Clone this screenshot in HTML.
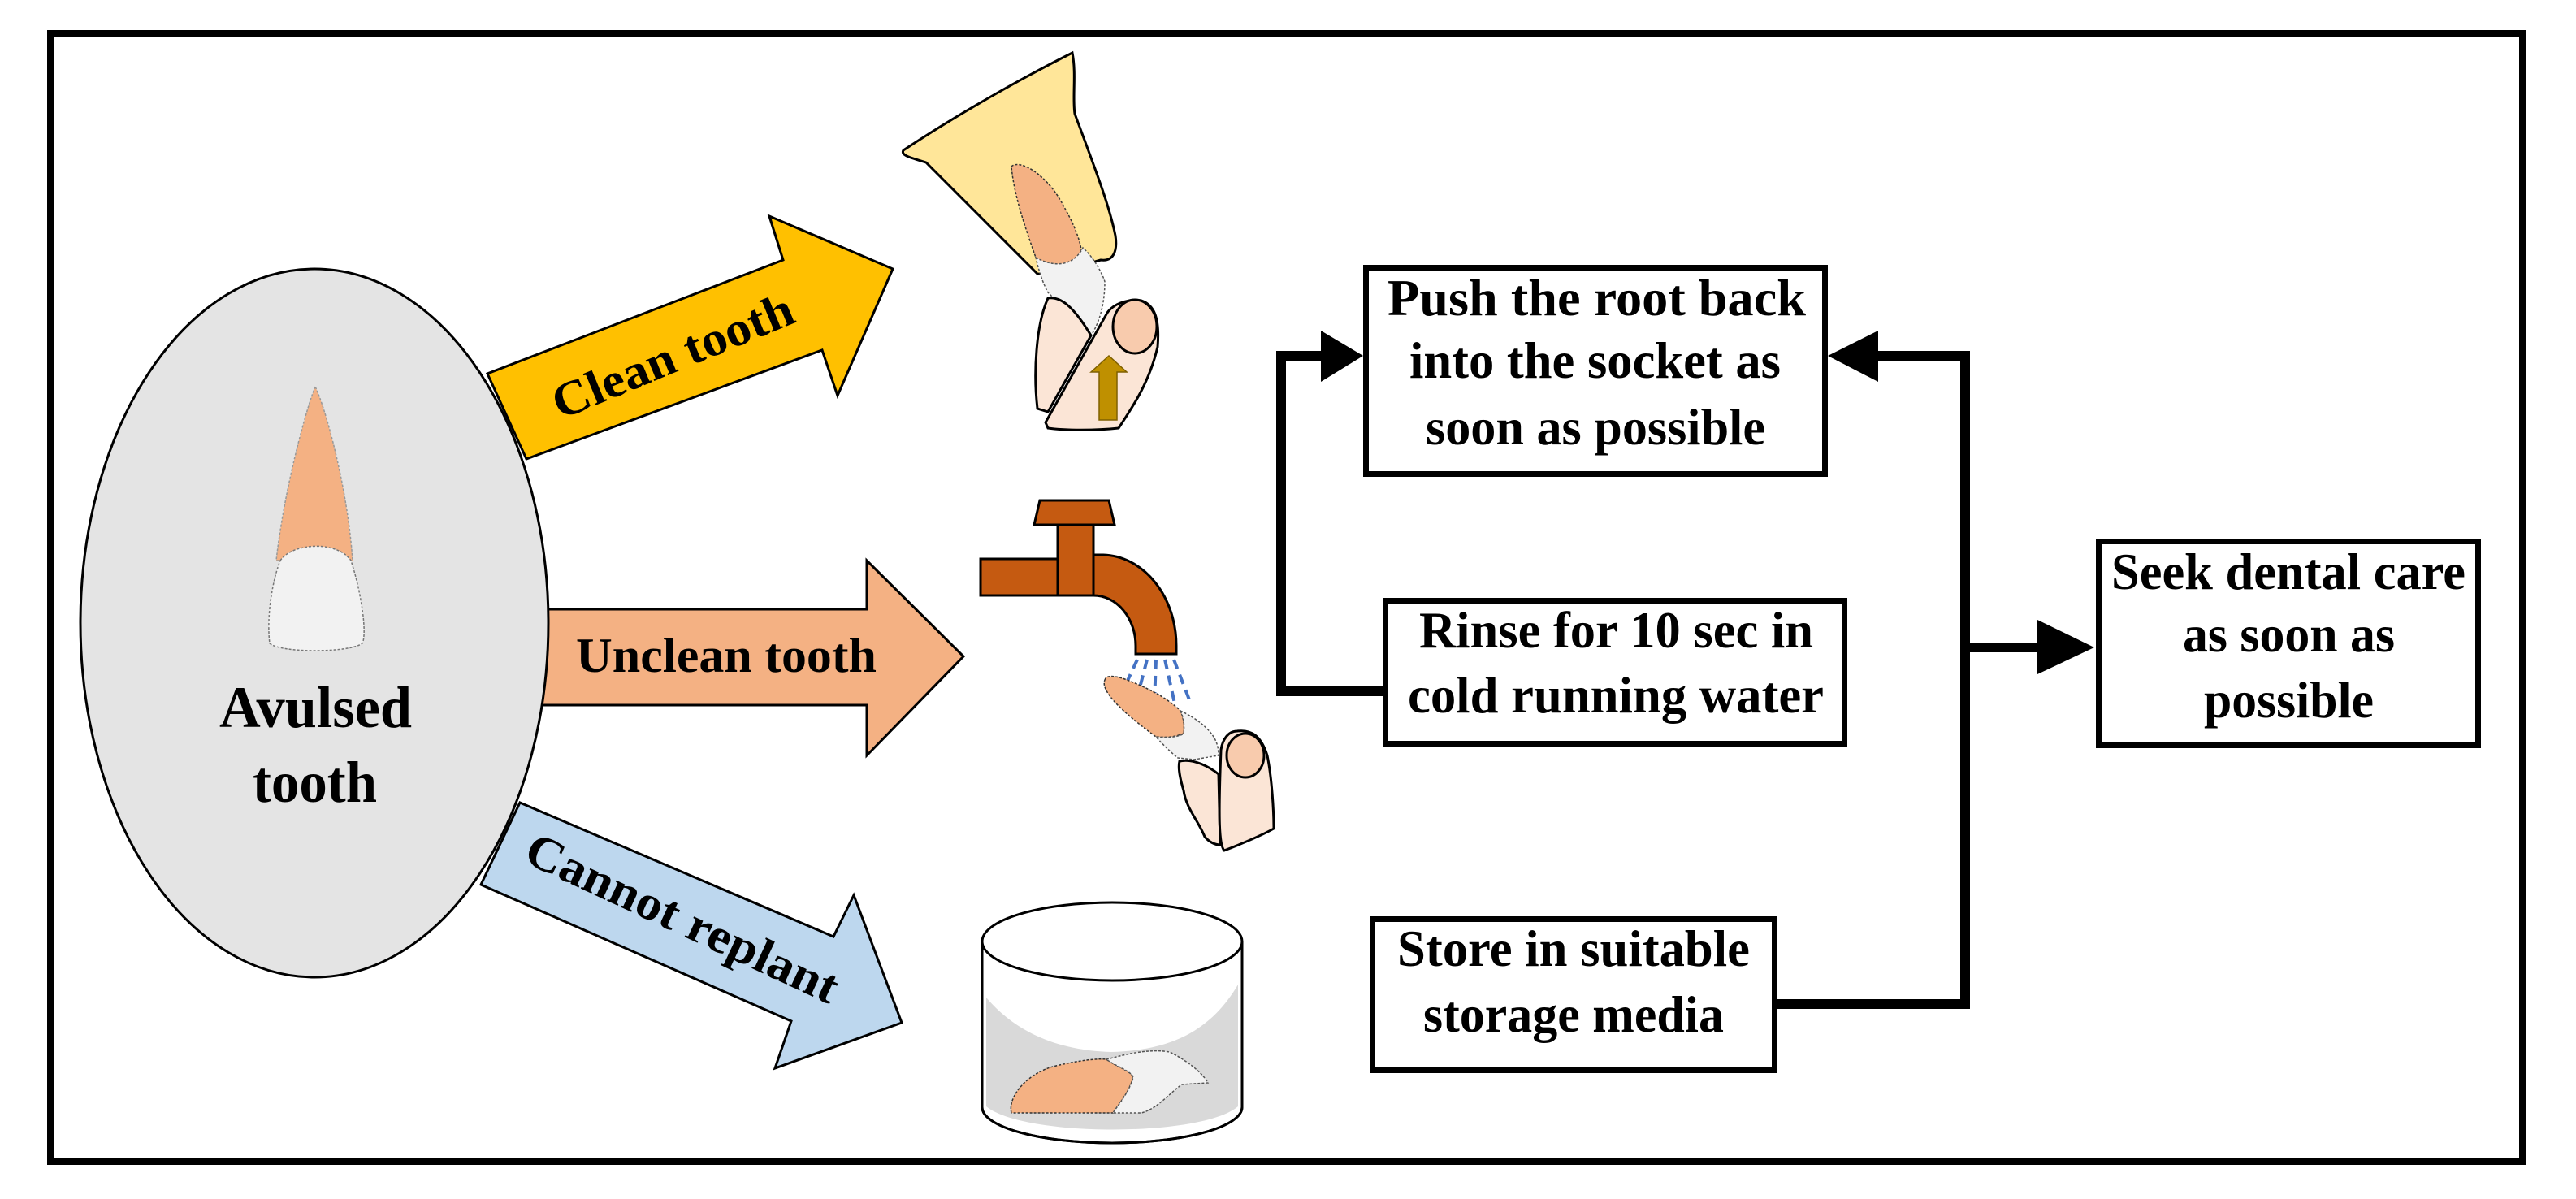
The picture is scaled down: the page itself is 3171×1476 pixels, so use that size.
<!DOCTYPE html>
<html><head><meta charset="utf-8"><style>
html,body{margin:0;padding:0;background:#fff;}
svg{display:block;}
text{font-family:"Liberation Serif","Times New Roman",serif;font-weight:bold;fill:#000;}
</style></head><body>
<svg width="3171" height="1476" viewBox="0 0 3171 1476" xmlns="http://www.w3.org/2000/svg">
<rect x="0" y="0" width="3171" height="1476" fill="#fff"/>
<rect x="62" y="41" width="3043" height="1389" fill="none" stroke="#000" stroke-width="8"/>

<!-- arrows (behind ellipse) -->
<polygon points="648,565 600,460 964,320 947,266 1099,331 1031,487 1012,431" fill="#FFC000" stroke="#000" stroke-width="3"/>
<polygon points="660,750 1067,750 1067,690 1186,808 1067,930 1067,868 660,868" fill="#F4B183" stroke="#000" stroke-width="3"/>
<polygon points="640,988 592,1089 974,1257 954,1315 1110,1259 1051,1102 1026,1153" fill="#BDD7EE" stroke="#000" stroke-width="3"/>

<ellipse cx="387" cy="767" rx="288" ry="436" fill="#E4E4E4" stroke="#000" stroke-width="3"/>

<!-- tooth in ellipse -->
<path d="M388,476 C378,500 350,600 340,690 L434,690 C428,600 400,500 388,476 Z" fill="#F4B183" stroke="#999" stroke-width="1.5" stroke-dasharray="3,2"/>
<path d="M345,690 C360,668 415,665 432,690 C445,730 452,780 446,792 C430,804 345,804 332,792 C328,760 335,715 345,690 Z" fill="#F2F2F2" stroke="#777" stroke-width="1.5" stroke-dasharray="3,2"/>

<text x="270" y="895" font-size="72" textLength="237" lengthAdjust="spacingAndGlyphs">Avulsed</text>
<text x="311" y="987" font-size="72" textLength="153" lengthAdjust="spacingAndGlyphs">tooth</text>

<text x="828" y="458" font-size="60" text-anchor="middle" textLength="316" lengthAdjust="spacingAndGlyphs" transform="rotate(-22.5 828 438)">Clean tooth</text>
<text x="709" y="827" font-size="60" textLength="370" lengthAdjust="spacingAndGlyphs">Unclean tooth</text>
<text x="840" y="1150" font-size="60" text-anchor="middle" textLength="418" lengthAdjust="spacingAndGlyphs" transform="rotate(25 840 1130)">Cannot replant</text>

<!-- picture 1: gum + fingers -->
<path d="M1112,185 C1180,140 1260,95 1320,65 C1325,90 1320,120 1323,140 C1345,200 1365,250 1373,290 C1376,310 1370,322 1355,320 C1320,330 1300,338 1277,337 C1230,290 1180,240 1140,200 C1125,195 1108,192 1112,185 Z" fill="#FFE699" stroke="#000" stroke-width="3"/>
<path d="M1245,205 C1255,195 1290,215 1310,255 C1330,290 1335,315 1330,327 C1310,335 1285,325 1275,317 C1262,280 1248,240 1245,205 Z" fill="#F4B183" stroke="#333" stroke-width="1.5" stroke-dasharray="3,2"/>
<path d="M1275,317 C1295,328 1320,330 1333,305 C1350,320 1360,345 1360,347 C1360,370 1355,395 1343,413 C1320,390 1300,370 1290,360 C1282,345 1278,330 1275,317 Z" fill="#F2F2F2" stroke="#555" stroke-width="1.5" stroke-dasharray="3,2"/>
<path d="M1277,503 C1272,460 1275,400 1290,367 C1305,365 1320,375 1343,413 L1290,507 Z" fill="#FBE5D6" stroke="#000" stroke-width="3"/>
<path d="M1287,520 L1363,385 C1370,375 1385,368 1405,370 C1420,375 1428,390 1425,427 C1415,470 1395,500 1377,527 C1350,530 1310,530 1290,527 Z" fill="#FBE5D6" stroke="#000" stroke-width="3"/>
<ellipse cx="1397" cy="402" rx="27" ry="33" fill="#F8CBAD" stroke="#000" stroke-width="3"/>
<polygon points="1353,517 1353,458 1343,458 1365,438 1387,458 1375,458 1375,517" fill="#BF9000" stroke="#7F6000" stroke-width="1.5"/>

<!-- faucet -->
<polygon points="1280,616 1365,616 1372,646 1273,646" fill="#C55A11" stroke="#000" stroke-width="3"/>
<rect x="1207" y="688" width="95" height="45" fill="#C55A11" stroke="#000" stroke-width="3"/>
<rect x="1302" y="646" width="44" height="87" fill="#C55A11" stroke="#000" stroke-width="3"/>
<path d="M1346,683 L1358,683 A92,112 0 0 1 1448,795 L1448,805 L1398,805 L1398,795 A52,62 0 0 0 1346,733 Z" fill="#C55A11" stroke="#000" stroke-width="3"/>
<g stroke="#4472C4" stroke-width="4" stroke-dasharray="12,8">
<line x1="1400" y1="812" x2="1375" y2="866"/>
<line x1="1412" y1="812" x2="1398" y2="866"/>
<line x1="1423" y1="812" x2="1421" y2="866"/>
<line x1="1434" y1="812" x2="1446" y2="866"/>
<line x1="1445" y1="812" x2="1465" y2="864"/>
</g>
<!-- wet tooth + finger -->
<path d="M1360,837 C1362,830 1375,832 1390,838 C1420,850 1440,862 1453,875 C1458,885 1458,898 1457,903 C1445,908 1432,908 1423,907 C1400,890 1375,870 1365,855 C1360,848 1358,842 1360,837 Z" fill="#F4B183" stroke="#333" stroke-width="1.5" stroke-dasharray="3,2"/>
<path d="M1453,875 C1475,885 1492,900 1497,913 C1500,920 1500,928 1500,930 L1470,935 C1460,934 1450,933 1450,933 C1440,925 1430,915 1423,907 C1435,908 1450,908 1457,903 C1458,895 1458,885 1453,875 Z" fill="#F2F2F2" stroke="#555" stroke-width="1.5" stroke-dasharray="3,2"/>
<path d="M1452,937 C1470,933 1490,945 1500,953 L1502,1040 C1495,1040 1488,1036 1483,1030 C1475,1010 1460,995 1457,973 C1453,960 1450,945 1452,937 Z" fill="#FBE5D6" stroke="#000" stroke-width="3"/>
<path d="M1503,923 C1505,910 1512,900 1523,900 C1540,898 1552,905 1560,930 C1566,960 1568,1000 1568,1020 C1550,1030 1525,1040 1507,1047 C1500,1040 1500,1000 1503,923 Z" fill="#FBE5D6" stroke="#000" stroke-width="3"/>
<ellipse cx="1533" cy="930" rx="23" ry="27" fill="#F8CBAD" stroke="#000" stroke-width="3"/>

<!-- glass -->
<path d="M1209,1159 L1209,1363 A160,44 0 0 0 1529,1363 L1529,1159" fill="#fff" stroke="#000" stroke-width="3"/>
<path d="M1214,1228 C1250,1270 1300,1293 1368,1295 C1440,1293 1490,1270 1524,1212 L1524,1362 C1480,1400 1260,1400 1214,1362 Z" fill="#D9D9D9"/>
<path d="M1209,1363 A160,44 0 0 0 1529,1363" fill="none" stroke="#000" stroke-width="3"/>
<ellipse cx="1369" cy="1159" rx="160" ry="48" fill="#fff" stroke="#000" stroke-width="3"/>
<path d="M1245,1370 C1240,1350 1265,1320 1300,1312 C1330,1305 1350,1303 1362,1304 C1372,1312 1392,1318 1395,1326 C1390,1345 1375,1362 1370,1370 Z" fill="#F4B183" stroke="#333" stroke-width="1.5" stroke-dasharray="3,2"/>
<path d="M1362,1304 C1380,1300 1410,1290 1440,1295 C1460,1305 1480,1320 1487,1333 L1455,1335 C1440,1345 1425,1365 1405,1370 L1370,1370 C1375,1362 1390,1345 1395,1326 C1392,1318 1372,1312 1362,1304 Z" fill="#F2F2F2" stroke="#555" stroke-width="1.5" stroke-dasharray="3,2"/>

<!-- boxes -->
<g fill="#fff" stroke="#000" stroke-width="7">
<rect x="1681.5" y="329.5" width="565" height="254"/>
<rect x="1705.5" y="739.5" width="565" height="176"/>
<rect x="1689.5" y="1131.5" width="495" height="186"/>
<rect x="2583.5" y="666.5" width="467" height="251"/>
</g>

<!-- connectors -->
<g fill="none" stroke="#000" stroke-width="12" stroke-linejoin="miter">
<polyline points="1702,851 1577,851 1577,438 1630,438"/>
<polyline points="2188,1236 2419,1236 2419,438 2310,438"/>
<line x1="2419" y1="797" x2="2512" y2="797"/>
</g>
<polygon points="1626,407 1678,438 1626,470" fill="#000"/>
<polygon points="2312,407 2250,438 2312,470" fill="#000"/>
<polygon points="2508,763 2578,797 2508,830" fill="#000"/>

<!-- box text -->
<g font-size="63">
<text x="1708" y="388" textLength="515" lengthAdjust="spacingAndGlyphs">Push the root  back</text>
<text x="1735" y="465" textLength="457" lengthAdjust="spacingAndGlyphs">into the socket as</text>
<text x="1755" y="547" textLength="418" lengthAdjust="spacingAndGlyphs">soon as possible</text>
<text x="1747" y="797" textLength="485" lengthAdjust="spacingAndGlyphs">Rinse for 10 sec in</text>
<text x="1733" y="877" textLength="512" lengthAdjust="spacingAndGlyphs">cold running water</text>
<text x="1720" y="1189" textLength="434" lengthAdjust="spacingAndGlyphs">Store in suitable</text>
<text x="1752" y="1270" textLength="370" lengthAdjust="spacingAndGlyphs">storage media</text>
<text x="2599" y="725" textLength="436" lengthAdjust="spacingAndGlyphs">Seek dental care</text>
<text x="2687" y="802" textLength="261" lengthAdjust="spacingAndGlyphs">as soon as</text>
<text x="2713" y="883" textLength="209" lengthAdjust="spacingAndGlyphs">possible</text>
</g>
</svg>
</body></html>
